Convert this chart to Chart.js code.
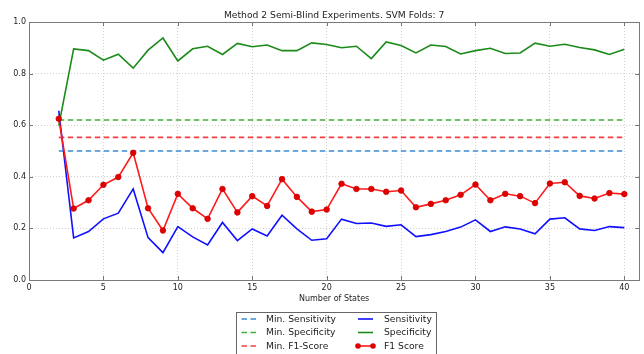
<!DOCTYPE html>
<html><head><meta charset="utf-8">
<script src="https://cdn.jsdelivr.net/npm/chart.js@4.4.1/dist/chart.umd.min.js"></script>
<style>html,body{margin:0;padding:0;background:#fff}#wrap{width:644px;height:354px}</style>
</head><body><div id="wrap"><canvas id="c" width="644" height="354"></canvas></div>
<script>
const TITLE = 'Method 2 Semi-Blind Experiments. SVM Folds: 7';
const XLABEL = 'Number of States';
const states = [2,3,4,5,6,7,8,9,10,11,12,13,14,15,16,17,18,19,20,21,22,23,24,25,26,27,28,29,30,31,32,33,34,35,36,37,38,39,40];
const sensitivity = [0.656,0.163,0.188,0.237,0.259,0.353,0.164,0.106,0.207,0.167,0.136,0.223,0.153,0.198,0.171,0.251,0.198,0.154,0.160,0.236,0.219,0.221,0.208,0.214,0.168,0.176,0.188,0.205,0.233,0.188,0.206,0.198,0.179,0.236,0.241,0.198,0.192,0.207,0.203];
const specificity = [0.598,0.896,0.889,0.852,0.875,0.821,0.891,0.938,0.849,0.896,0.906,0.874,0.917,0.904,0.911,0.889,0.889,0.919,0.913,0.900,0.906,0.858,0.923,0.909,0.880,0.911,0.905,0.876,0.889,0.898,0.878,0.880,0.918,0.906,0.914,0.901,0.892,0.874,0.894];
const f1Score = [0.625,0.277,0.309,0.369,0.399,0.493,0.278,0.192,0.334,0.278,0.237,0.353,0.262,0.325,0.287,0.391,0.322,0.265,0.273,0.373,0.353,0.353,0.342,0.347,0.282,0.295,0.309,0.330,0.370,0.309,0.334,0.325,0.298,0.374,0.379,0.326,0.316,0.337,0.333];
const minSensitivity = 0.50;
const minSpecificity = 0.62;
const minF1 = 0.553;
const xTicks = [0,5,10,15,20,25,30,35,40];
const yTicks = [0.0,0.2,0.4,0.6,0.8,1.0];

const FONT = '"DejaVu Sans", sans-serif';
const pts = arr => states.map((s,i)=>({x:s,y:arr[i]}));
const flat = v => [{x:states[0],y:v},{x:states[states.length-1],y:v}];
const DASH = [5.5,3.5];

const datasets = [
  {label:'Min. Sensitivity', data:flat(minSensitivity), borderColor:'#3d8cd0', borderDash:DASH, order:5},
  {label:'Min. Specificity', data:flat(minSpecificity), borderColor:'#3fae3f', borderDash:DASH, order:4},
  {label:'Min. F1-Score', data:flat(minF1), borderColor:'#f04040', borderDash:DASH, order:3},
  {label:'Sensitivity', data:pts(sensitivity), borderColor:'#1010ff', order:2},
  {label:'Specificity', data:pts(specificity), borderColor:'#1a8a1a', order:1},
  {label:'F1 Score', data:pts(f1Score), borderColor:'#ff1a1a', backgroundColor:'#e00000', pointRadius:2.8, pointBorderColor:'#d00000', pointBorderWidth:0.8, order:0}
].map(d=>Object.assign({borderWidth:1.6, pointRadius:0, tension:0, fill:false}, d));

const decor = {
  id:'decor',
  afterDatasetsDraw(chart){
    const {ctx, chartArea:a, scales:{x,y}} = chart;
    ctx.save();
    const line=(x1,y1,x2,y2)=>{ctx.beginPath();ctx.moveTo(x1,y1);ctx.lineTo(x2,y2);ctx.stroke();};
    ctx.strokeStyle='#555'; ctx.lineWidth=0.8;
    x.ticks.forEach(t=>{const p=Math.round(x.getPixelForValue(t.value))+0.5; line(p,a.bottom,p,a.bottom-4); line(p,a.top,p,a.top+4);});
    y.ticks.forEach(t=>{const p=Math.round(y.getPixelForValue(t.value))+0.5; line(a.left,p,a.left+4,p); line(a.right,p,a.right-4,p);});
    ctx.strokeStyle='#7a7a7a'; ctx.lineWidth=1;
    ctx.strokeRect(Math.round(a.left)+0.5, Math.round(a.top)+0.5, Math.round(a.right-a.left), Math.round(a.bottom-a.top));
    ctx.fillStyle='#222'; ctx.textAlign='center'; ctx.textBaseline='alphabetic';
    ctx.font='9.2px '+FONT;
    ctx.fillText(TITLE,(a.left+a.right)/2,18);
    ctx.font='8px '+FONT;
    ctx.fillText(XLABEL,(a.left+a.right)/2,301);
    // legend
    const bx=236.5, by=312.5, bw=200, bh=50;
    ctx.fillStyle='#fff'; ctx.fillRect(bx,by,bw,bh);
    ctx.strokeStyle='#666'; ctx.lineWidth=1; ctx.strokeRect(bx,by,bw,bh);
    const colX=[[241.5,256,266],[358,373,384]];
    const rowY=[319,332.5,346];
    ctx.font='9.2px '+FONT; ctx.textAlign='left'; ctx.textBaseline='middle';
    chart.data.datasets.forEach((d,i)=>{
      const c=colX[i<3?0:1], yy=rowY[i%3];
      ctx.strokeStyle=d.borderColor; ctx.lineWidth=d.borderWidth;
      ctx.setLineDash(d.borderDash||[]);
      line(c[0],yy,c[1],yy);
      ctx.setLineDash([]);
      if(d.pointRadius>0){
        ctx.fillStyle=d.backgroundColor;
        [c[0],c[1]].forEach(px=>{ctx.beginPath();ctx.arc(px,yy,d.pointRadius,0,Math.PI*2);ctx.fill();});
      }
      ctx.fillStyle='#222';
      ctx.fillText(d.label,c[2],yy+0.5);
    });
    ctx.restore();
  }
};

new Chart(document.getElementById('c'),{
  type:'line',
  data:{datasets},
  options:{
    responsive:false, animation:false,
    layout:{padding:{top:22,right:0,bottom:60,left:0}},
    plugins:{legend:{display:false},title:{display:false},tooltip:{enabled:false}},
    scales:{
      x:{type:'linear',min:0,max:41,
        afterBuildTicks:s=>{s.ticks=xTicks.map(v=>({value:v}));},
        afterFit:s=>{s.height=14;s.paddingLeft=0;s.paddingRight=0;},
        ticks:{font:{family:FONT,size:8},color:'#222',padding:3,maxRotation:0,callback:v=>String(v)},
        grid:{color:'#c4c4c4',lineWidth:0.8,drawTicks:false},
        border:{display:false,dash:[1,2]}},
      y:{type:'linear',min:0,max:1,
        afterBuildTicks:s=>{s.ticks=yTicks.map(v=>({value:v}));},
        afterFit:s=>{s.width=29;s.paddingTop=0;s.paddingBottom=0;},
        ticks:{font:{family:FONT,size:8},color:'#222',padding:3,callback:v=>Number(v).toFixed(1)},
        grid:{color:'#c4c4c4',lineWidth:0.8,drawTicks:false},
        border:{display:false,dash:[1,2]}}
    }
  },
  plugins:[decor]
});
</script></body></html>
